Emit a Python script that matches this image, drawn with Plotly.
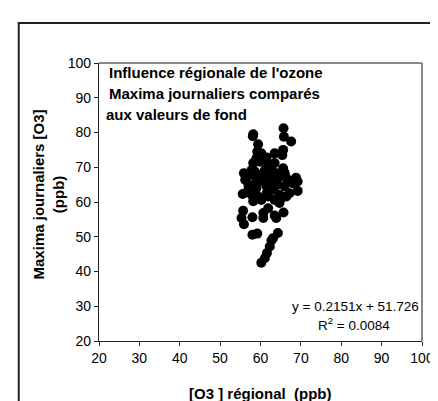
import plotly.graph_objects as go

# Regional O3 (ppb) vs daily maxima O3 (ppb)
x_regional = [65.7, 65.8, 67.6, 58.2, 59.4, 59.2, 59.0, 60.2, 61.5, 63.5,
              65.6, 65.4, 55.9, 57.8, 58.2, 59.8, 61.9, 63.5, 63.1, 65.6,
              66.0, 68.8, 69.2, 68.0, 69.2, 56.2, 57.0, 55.6, 57.8, 59.4,
              61.5, 63.1, 64.7, 66.4, 67.2, 65.2, 63.5, 62.3, 60.7, 59.0,
              59.0, 61.5, 64.3, 66.0, 60.2, 62.3, 64.3, 55.7, 55.3, 55.9,
              58.0, 60.7, 60.7, 61.9, 63.5, 63.9, 65.7, 58.0, 59.2, 64.3,
              62.7, 62.3, 61.6, 61.1, 60.2, 63.1, 64.7, 57.4, 58.6, 61.1,
              62.7, 64.7, 66.4, 67.6, 57.0, 60.2, 58.2, 61.9, 58.1]
y_maxima = [81.2, 78.8, 77.4, 79.5, 76.6, 74.5, 72.6, 74.0, 72.8, 74.0,
            75.0, 73.5, 68.3, 69.2, 71.2, 71.6, 70.7, 71.2, 68.8, 69.7,
            68.3, 67.0, 65.9, 65.4, 63.2, 66.4, 65.0, 62.3, 62.1, 61.6,
            62.5, 63.5, 62.1, 61.6, 62.5, 61.1, 60.6, 65.4, 65.9, 66.4,
            64.0, 64.5, 65.0, 64.5, 67.8, 67.3, 66.9, 57.5, 55.4, 53.6,
            55.6, 56.8, 55.4, 58.2, 56.1, 55.4, 57.0, 50.6, 50.9, 51.1,
            48.9, 47.2, 45.3, 43.9, 42.5, 49.6, 59.7, 67.8, 68.8, 69.2,
            69.7, 68.3, 66.9, 65.9, 63.5, 60.6, 60.2, 61.6, 78.9]

tick_vals = [20, 30, 40, 50, 60, 70, 80, 90, 100]
title_lines = ["Influence régionale de l'ozone", "Maxima journaliers comparés", "aux valeurs de fond"]
equation_text = "y = 0.2151x + 51.726"
r2_text = "R<sup>2</sup> = 0.0084"
x_title = "[O3 ] régional \u00a0(ppb)"
y_title = "Maxima journaliers [O3]<br>(ppb)"

FONT = "Arial, Liberation Sans, sans-serif"
W, H = 438, 401
L, R, T, B = 91, 417, 55, 333

fig = go.Figure()
fig.add_trace(go.Scatter(
    x=x_regional, y=y_maxima, mode="markers",
    marker=dict(color="black", size=10, line=dict(width=0)),
    showlegend=False, cliponaxis=False,
))

axis_common = dict(
    range=[20, 100], tickvals=tick_vals, showgrid=False, zeroline=False,
    showline=True, linecolor="#222", linewidth=1.2,
    ticks="outside", ticklen=4, tickcolor="#222", tickwidth=1,
    tickfont=dict(family=FONT, size=14, color="black"),
)
fig.update_xaxes(**axis_common)
fig.update_yaxes(**axis_common)

pw, ph = R - L, B - T
def px2paper_x(px):
    return (px - L) / pw
def px2paper_y(py):
    return (B - py) / ph

shapes = [
    dict(type="rect", xref="paper", yref="paper",
         x0=px2paper_x(10), x1=px2paper_x(445), y0=px2paper_y(410), y1=px2paper_y(15),
         line=dict(color="#222", width=2), fillcolor="rgba(0,0,0,0)", layer="below"),
    dict(type="line", xref="paper", yref="paper", x0=0, x1=1, y0=1, y1=1,
         line=dict(color="#8a8a8a", width=2)),
    dict(type="line", xref="paper", yref="paper", x0=1, x1=1, y0=0, y1=1,
         line=dict(color="#8a8a8a", width=2)),
]

annotations = []
title_y = [64, 85, 106]
title_x = [99, 99, 96]
for txt, yy, xx in zip(title_lines, title_y, title_x):
    annotations.append(dict(
        text=f"<b>{txt}</b>", xref="paper", yref="paper",
        x=px2paper_x(xx), y=px2paper_y(yy), xanchor="left", yanchor="middle",
        showarrow=False, font=dict(family=FONT, size=15, color="black")))

annotations.append(dict(
    text=equation_text, xref="paper", yref="paper",
    x=px2paper_x(416), y=px2paper_y(298), xanchor="right", yanchor="middle",
    showarrow=False, font=dict(family=FONT, size=13.5, color="black")))
annotations.append(dict(
    text=r2_text, xref="paper", yref="paper",
    x=px2paper_x(348), y=px2paper_y(316), xanchor="center", yanchor="middle",
    showarrow=False, font=dict(family=FONT, size=13.5, color="black")))

annotations.append(dict(
    text=f"<b>{x_title}</b>", xref="paper", yref="paper",
    x=px2paper_x(254), y=px2paper_y(385), xanchor="center", yanchor="middle",
    showarrow=False, font=dict(family=FONT, size=15, color="black")))
annotations.append(dict(
    text=f"<b>{y_title}</b>", xref="paper", yref="paper",
    x=px2paper_x(40), y=px2paper_y(186), xanchor="center", yanchor="middle",
    textangle=-90, showarrow=False, font=dict(family=FONT, size=15, color="black")))

fig.update_layout(
    width=W, height=H,
    margin=dict(l=L, r=W - R, t=T, b=H - B, pad=0),
    paper_bgcolor="white", plot_bgcolor="white",
    shapes=shapes, annotations=annotations,
)

fig.write_html("out.html")
